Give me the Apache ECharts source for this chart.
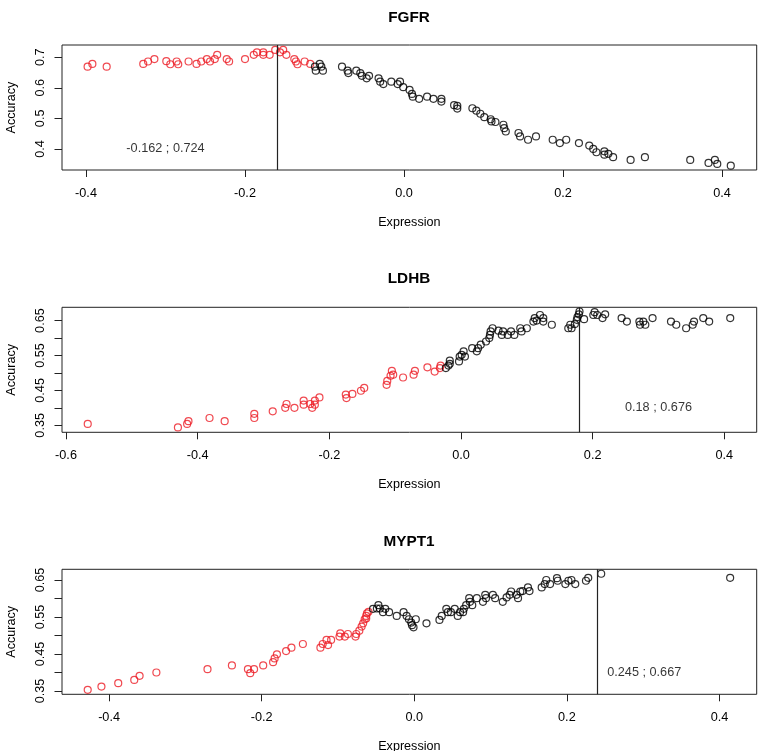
<!DOCTYPE html>
<html>
<head>
    <meta charset="UTF-8">
    <title>Accuracy vs Expression</title>
    <script src="https://cdn.jsdelivr.net/npm/echarts@6/dist/echarts.min.js"></script>
    <style>
        html, body { margin: 0; padding: 0; background: #fff; }
        #main { width: 765px; height: 751px; }
    </style>
</head>
<body>
<div id="main"></div>
<script type="text/javascript">
    // values: [expression, accuracy]
    var fgfrRed = [[-0.398,0.669],[-0.392,0.678],[-0.374,0.669],[-0.328,0.678],[-0.322,0.686],[-0.314,0.694],
        [-0.299,0.687],[-0.294,0.677],[-0.286,0.686],[-0.284,0.677],[-0.271,0.686],[-0.261,0.678],[-0.255,0.686],
        [-0.248,0.694],[-0.244,0.686],[-0.238,0.694],[-0.235,0.708],[-0.223,0.694],[-0.220,0.686],[-0.200,0.694],
        [-0.189,0.708],[-0.185,0.716],[-0.177,0.708],[-0.177,0.716],[-0.169,0.708],[-0.162,0.724],[-0.156,0.716],
        [-0.152,0.724],[-0.148,0.708],[-0.138,0.694],[-0.136,0.686],[-0.134,0.677],[-0.125,0.686],[-0.118,0.678]];
    var fgfrBlack = [[-0.112,0.669],[-0.111,0.656],[-0.106,0.678],[-0.104,0.669],[-0.102,0.656],[-0.078,0.669],
        [-0.071,0.656],[-0.070,0.648],[-0.060,0.656],[-0.055,0.648],[-0.053,0.639],[-0.047,0.631],[-0.044,0.639],
        [-0.032,0.631],[-0.030,0.620],[-0.026,0.612],[-0.016,0.620],[-0.008,0.612],[-0.005,0.620],[-0.001,0.602],
        [0.007,0.593],[0.010,0.580],[0.011,0.571],[0.019,0.564],[0.029,0.571],[0.037,0.564],[0.047,0.564],
        [0.047,0.555],[0.063,0.543],[0.067,0.541],[0.067,0.532],[0.086,0.533],[0.091,0.525],[0.096,0.515],
        [0.101,0.504],[0.109,0.497],[0.110,0.490],[0.115,0.488],[0.125,0.479],[0.126,0.468],[0.128,0.457],
        [0.144,0.452],[0.146,0.441],[0.156,0.430],[0.166,0.441],[0.187,0.430],[0.196,0.419],[0.204,0.430],
        [0.220,0.419],[0.233,0.411],[0.238,0.400],[0.242,0.389],[0.252,0.392],[0.252,0.381],[0.257,0.384],
        [0.263,0.373],[0.285,0.364],[0.303,0.373],[0.360,0.364],[0.383,0.354],[0.391,0.364],[0.394,0.351],
        [0.411,0.345]];

    var ldhbRed = [[-0.567,0.354],[-0.430,0.344],[-0.416,0.354],[-0.414,0.362],[-0.382,0.371],[-0.359,0.362],
        [-0.314,0.383],[-0.314,0.371],[-0.286,0.390],[-0.267,0.400],[-0.265,0.411],[-0.253,0.400],[-0.239,0.421],
        [-0.239,0.409],[-0.229,0.411],[-0.226,0.400],[-0.222,0.421],[-0.222,0.409],[-0.215,0.430],[-0.175,0.438],
        [-0.174,0.428],[-0.165,0.440],[-0.152,0.449],[-0.147,0.457],[-0.113,0.466],[-0.112,0.477],[-0.107,0.492],
        [-0.105,0.506],[-0.103,0.495],[-0.088,0.487],[-0.072,0.495],[-0.070,0.506],[-0.051,0.516],[-0.040,0.504],
        [-0.032,0.514],[-0.031,0.521]];
    var ldhbBlack = [[-0.023,0.514],[-0.019,0.521],[-0.017,0.535],[-0.017,0.526],[-0.003,0.533],[-0.002,0.547],
        [0.001,0.552],[0.004,0.562],[0.006,0.547],[0.017,0.571],[0.024,0.562],[0.026,0.571],[0.030,0.581],
        [0.038,0.590],[0.043,0.600],[0.044,0.609],[0.045,0.619],[0.048,0.628],[0.057,0.621],[0.062,0.609],
        [0.064,0.619],[0.071,0.609],[0.076,0.619],[0.081,0.609],[0.090,0.628],[0.092,0.619],[0.100,0.628],
        [0.110,0.647],[0.112,0.657],[0.115,0.650],[0.120,0.666],[0.125,0.657],[0.125,0.647],[0.138,0.638],
        [0.163,0.628],[0.166,0.638],[0.168,0.628],[0.173,0.640],[0.176,0.652],[0.177,0.660],[0.179,0.668],
        [0.180,0.676],[0.187,0.654],[0.201,0.666],[0.203,0.674],[0.207,0.666],[0.215,0.657],[0.219,0.668],
        [0.244,0.657],[0.252,0.647],[0.271,0.647],[0.272,0.638],[0.277,0.647],[0.280,0.638],[0.291,0.657],
        [0.319,0.647],[0.327,0.638],[0.342,0.628],[0.352,0.638],[0.354,0.647],[0.368,0.657],[0.377,0.647],
        [0.409,0.657]];

    var myptRed = [[-0.428,0.353],[-0.410,0.362],[-0.388,0.371],[-0.367,0.380],[-0.360,0.391],[-0.338,0.400],
        [-0.271,0.409],[-0.239,0.419],[-0.218,0.409],[-0.215,0.398],[-0.210,0.409],[-0.198,0.419],[-0.185,0.428],
        [-0.183,0.438],[-0.180,0.449],[-0.168,0.458],[-0.161,0.467],[-0.146,0.477],[-0.123,0.467],[-0.120,0.477],
        [-0.115,0.488],[-0.113,0.474],[-0.109,0.488],[-0.098,0.497],[-0.097,0.506],[-0.091,0.497],[-0.087,0.504],
        [-0.077,0.497],[-0.076,0.504],[-0.072,0.513],[-0.069,0.524],[-0.067,0.533],[-0.065,0.544],[-0.063,0.553],
        [-0.063,0.546],[-0.062,0.560],[-0.060,0.564]];
    var myptBlack = [[-0.054,0.572],[-0.049,0.573],[-0.047,0.582],[-0.045,0.573],[-0.041,0.563],[-0.038,0.572],
        [-0.033,0.563],[-0.023,0.553],[-0.014,0.563],[-0.010,0.553],[-0.007,0.544],[-0.004,0.535],[-0.003,0.528],
        [-0.001,0.522],[0.002,0.544],[0.016,0.533],[0.033,0.542],[0.036,0.553],[0.042,0.572],[0.044,0.563],
        [0.048,0.563],[0.053,0.572],[0.057,0.553],[0.060,0.563],[0.064,0.563],[0.065,0.572],[0.068,0.582],
        [0.072,0.601],[0.073,0.591],[0.076,0.582],[0.082,0.601],[0.090,0.591],[0.093,0.610],[0.094,0.601],
        [0.103,0.610],[0.106,0.601],[0.116,0.591],[0.121,0.603],[0.125,0.610],[0.127,0.619],[0.134,0.610],
        [0.136,0.601],[0.139,0.619],[0.142,0.620],[0.149,0.630],[0.151,0.620],[0.167,0.630],[0.171,0.639],
        [0.173,0.650],[0.178,0.639],[0.187,0.655],[0.188,0.648],[0.198,0.639],[0.202,0.648],[0.206,0.650],
        [0.211,0.639],[0.225,0.648],[0.228,0.656],[0.245,0.667],[0.414,0.656]];

    var panelNames = ['FGFR', 'LDHB', 'MYPT1'];
    var cutoffs = [-0.162, 0.18, 0.245];
    var noteTexts = ['-0.162 ; 0.724', '0.18 ; 0.676', '0.245 ; 0.667'];
    var notePoints = [[-0.3, 0.4], [0.3, 0.4], [0.245, 0.4]];
    var xTicks = [[-0.4, -0.2, 0, 0.2, 0.4], [-0.6, -0.4, -0.2, 0, 0.2, 0.4], [-0.4, -0.2, 0, 0.2, 0.4]];
    var yTicks = [[0.4, 0.5, 0.6, 0.7],
        [0.35, 0.4, 0.45, 0.5, 0.55, 0.6, 0.65],
        [0.35, 0.4, 0.45, 0.5, 0.55, 0.6, 0.65]];
    var yTickLabels = [[0.4, 0.5, 0.6, 0.7], [0.35, 0.45, 0.55, 0.65], [0.35, 0.45, 0.55, 0.65]];
    var yDigits = [1, 2, 2];

    var redSets = [fgfrRed, ldhbRed, myptRed];
    var blackSets = [fgfrBlack, ldhbBlack, myptBlack];

    // axis ranges (R pads the data range by 4%)
    var xRanges = [[-0.4302, 0.4436], [-0.6061, 0.4492], [-0.4617, 0.4488]];
    var yRanges = [[0.331, 0.740], [0.330, 0.688], [0.341, 0.679]];
    var tops = [45, 307.3, 569.3];
    var titleMid = [16, 277, 540];

    var FONT = 'Liberation Sans, Arial, sans-serif';
    var RED = '#ec1c24';
    var INK = '#222';

    var grids = [], xAxes = [], yAxes = [], titles = [], series = [];

    panelNames.forEach(function (name, i) {
        grids.push({
            left: 62, right: 8.3, top: tops[i], height: 125,
            outerBoundsMode: 'none', containLabel: false,
            show: true, borderColor: INK, borderWidth: 1, backgroundColor: 'transparent'
        });
        titles.push({
            text: name, left: 409, top: titleMid[i] - 5.5, textAlign: 'center', padding: 0,
            textStyle: {fontFamily: FONT, fontSize: 15.3, fontWeight: 'bold', color: '#000'}
        });
        xAxes.push({
            gridIndex: i, type: 'value', min: xRanges[i][0], max: xRanges[i][1],
            name: 'Expression', nameLocation: 'middle', nameGap: 46,
            nameTextStyle: {fontFamily: FONT, fontSize: 12.6, color: '#000'},
            axisLine: {show: false, onZero: false},
            splitLine: {show: false},
            axisTick: {show: true, inside: false, length: 7, customValues: xTicks[i],
                lineStyle: {color: INK, width: 1}},
            axisLabel: {customValues: xTicks[i], margin: 17, fontFamily: FONT, fontSize: 12.7, color: '#000',
                formatter: function (v) { return v.toFixed(1); }}
        });
        yAxes.push({
            gridIndex: i, type: 'value', min: yRanges[i][0], max: yRanges[i][1],
            name: 'Accuracy', nameLocation: 'middle', nameGap: 44,
            nameTextStyle: {fontFamily: FONT, fontSize: 12.6, color: '#000'},
            axisLine: {show: false, onZero: false},
            splitLine: {show: false},
            axisTick: {show: true, inside: false, length: 7.5, customValues: yTicks[i],
                lineStyle: {color: INK, width: 1}},
            axisLabel: {customValues: yTickLabels[i], rotate: 90, margin: 15, fontFamily: FONT,
                fontSize: 12.7, color: '#000',
                formatter: function (v) { return v.toFixed(yDigits[i]); }}
        });

        var open = function (c) {
            return {color: 'rgba(0,0,0,0)', borderColor: c, borderWidth: 1.2};
        };
        series.push({
            type: 'scatter', xAxisIndex: i, yAxisIndex: i, symbol: 'circle', symbolSize: 7,
            itemStyle: open(RED), data: redSets[i], silent: true
        });
        series.push({
            type: 'scatter', xAxisIndex: i, yAxisIndex: i, symbol: 'circle', symbolSize: 7,
            itemStyle: open('#000'), data: blackSets[i], silent: true,
            markLine: {
                silent: true, symbol: 'none', animation: false,
                label: {show: false},
                lineStyle: {color: INK, width: 1.2, type: 'solid'},
                data: [{xAxis: cutoffs[i]}]
            }
        });
        series.push({
            type: 'scatter', xAxisIndex: i, yAxisIndex: i, symbolSize: 0, silent: true,
            data: [{value: notePoints[i], name: noteTexts[i]}],
            label: {
                show: true, formatter: '{b}',
                position: i === 2 ? 'right' : 'inside', distance: 6,
                fontFamily: FONT, fontSize: 12.7, color: '#000'
            }
        });
    });

    var myChart = echarts.init(document.getElementById('main'), null, {renderer: 'canvas'});
    myChart.setOption({
        animation: false,
        backgroundColor: '#fff',
        title: titles,
        grid: grids,
        xAxis: xAxes,
        yAxis: yAxes,
        series: series
    });
</script>
</body>
</html>
